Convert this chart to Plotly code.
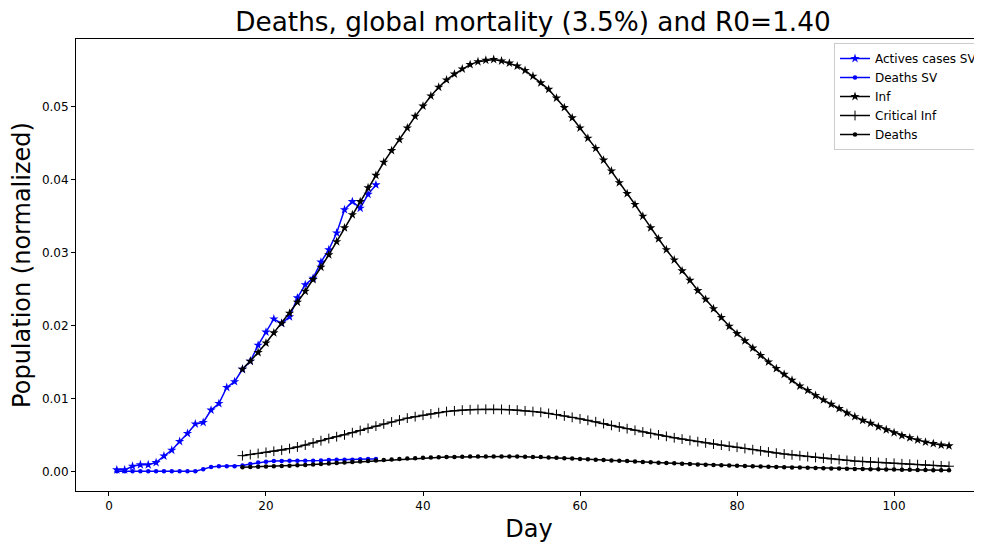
import plotly.graph_objects as go

# ---------------- data ----------------
days_sv = list(range(1, 35))
actives_sv = [0.0002, 0.0002, 0.0007, 0.0009, 0.0009, 0.0012, 0.0021, 0.0029, 0.0041, 0.0052,
              0.0065, 0.0067, 0.0084, 0.0093, 0.0115, 0.0123, 0.0140, 0.0151, 0.0173, 0.0191,
              0.0209, 0.0203, 0.0212, 0.0238, 0.0256, 0.0265, 0.0287, 0.0304, 0.0327, 0.0359,
              0.0370, 0.0361, 0.0380, 0.0393]
deaths_sv = [0.0, 0.0, 0.0, 0.0, 0.0, 0.0, 0.0, 0.0, 0.0, 0.0,
             0.0, 0.0003, 0.0006, 0.0007, 0.0007, 0.0007, 0.0008, 0.0010, 0.0012, 0.0013,
             0.0014, 0.0014, 0.00145, 0.00145, 0.00145, 0.00145, 0.0015, 0.00155, 0.0016, 0.0016,
             0.0016, 0.00165, 0.0017, 0.0017]

days_model = list(range(17, 108))
inf = [0.0140, 0.0151, 0.0163, 0.0176, 0.0190, 0.0203, 0.0217, 0.0232, 0.0247, 0.0263,
       0.0280, 0.0297, 0.0315, 0.0334, 0.0352, 0.0370, 0.0389, 0.0406, 0.0424, 0.0440,
       0.0455, 0.0471, 0.0487, 0.0501, 0.0515, 0.0527, 0.0537, 0.0545, 0.0552, 0.0558,
       0.0562, 0.0564, 0.0565, 0.0563, 0.0560, 0.0556, 0.0550, 0.0542, 0.0533, 0.0524,
       0.0512, 0.0499, 0.0485, 0.0471, 0.0457, 0.0443, 0.0427, 0.0412, 0.0396, 0.0381,
       0.0366, 0.0350, 0.0334, 0.0319, 0.0304, 0.0290, 0.0275, 0.0262, 0.0248, 0.0236,
       0.0223, 0.0211, 0.0199, 0.0189, 0.0179, 0.0169, 0.0159, 0.0150, 0.0141, 0.0133,
       0.0125, 0.0117, 0.0111, 0.0104, 0.0098, 0.0092, 0.0086, 0.0080, 0.0075, 0.0070,
       0.0066, 0.0061, 0.0057, 0.0053, 0.0049, 0.0046, 0.0043, 0.0040, 0.0038, 0.0036,
       0.0035]
critical_inf = [0.00215, 0.00230, 0.00245, 0.00260, 0.00275, 0.00290, 0.00312, 0.00335, 0.00360, 0.00390,
                0.00420, 0.00450, 0.00475, 0.00500, 0.00530, 0.00560, 0.00590, 0.00620, 0.00650, 0.00677,
                0.00704, 0.00730, 0.00750, 0.00770, 0.00788, 0.00805, 0.00820, 0.00830, 0.00840, 0.00845,
                0.00849, 0.00851, 0.00851, 0.00849, 0.00845, 0.00840, 0.00830, 0.00820, 0.00810, 0.00795,
                0.00780, 0.00760, 0.00740, 0.00720, 0.00700, 0.00680, 0.00655, 0.00630, 0.00608, 0.00585,
                0.00563, 0.00540, 0.00520, 0.00500, 0.00480, 0.00460, 0.00442, 0.00424, 0.00407, 0.00390,
                0.00374, 0.00359, 0.00344, 0.00330, 0.00313, 0.00297, 0.00281, 0.00265, 0.00250, 0.00238,
                0.00226, 0.00214, 0.00202, 0.00190, 0.00180, 0.00170, 0.00160, 0.00150, 0.00140, 0.00134,
                0.00128, 0.00122, 0.00116, 0.00110, 0.00104, 0.00098, 0.00092, 0.00086, 0.00080, 0.00075,
                0.00070]
deaths = [0.00055, 0.00058, 0.00062, 0.00065, 0.00069, 0.00073, 0.00078, 0.00083, 0.00088, 0.00094,
          0.00100, 0.00107, 0.00113, 0.00120, 0.00127, 0.00135, 0.00142, 0.00150, 0.00157, 0.00163,
          0.00169, 0.00175, 0.00180, 0.00185, 0.00189, 0.00192, 0.00195, 0.00198, 0.00200, 0.00202,
          0.00204, 0.00205, 0.00205, 0.00205, 0.00204, 0.00202, 0.00200, 0.00198, 0.00195, 0.00191,
          0.00186, 0.00181, 0.00176, 0.00170, 0.00165, 0.00160, 0.00155, 0.00150, 0.00145, 0.00140,
          0.00134, 0.00129, 0.00123, 0.00118, 0.00113, 0.00109, 0.00104, 0.00100, 0.00095, 0.00091,
          0.00087, 0.00083, 0.00079, 0.00075, 0.00072, 0.00069, 0.00066, 0.00063, 0.00060, 0.00057,
          0.00054, 0.00051, 0.00048, 0.00045, 0.00043, 0.00040, 0.00038, 0.00035, 0.00033, 0.00031,
          0.00029, 0.00027, 0.00025, 0.00024, 0.00022, 0.00020, 0.00019, 0.00017, 0.00016, 0.00014,
          0.00013]

x_ticks = [0, 20, 40, 60, 80, 100]
y_ticks = [0.00, 0.01, 0.02, 0.03, 0.04, 0.05]
y_tick_labels = ["0.00", "0.01", "0.02", "0.03", "0.04", "0.05"]

title_text = "Deaths, global mortality (3.5%) and R0=1.40"
x_label = "Day"
y_label = "Population (normalized)"

# ---------------- figure ----------------
BLUE = "#0000ff"
BLACK = "#000000"
FONT = "DejaVu Sans"

# the page body adds an 8px offset; the figure is sized so its right/bottom edges meet the window
W, H = 974, 535
ML, MT, MR = 68, 31, 0
MB = H - 483
PLOT_W = W - ML - MR
PLOT_H = H - MT - MB

fig = go.Figure()
fig.add_trace(go.Scatter(x=days_sv, y=actives_sv, name="Actives cases SV", mode="lines+markers",
                         line=dict(color=BLUE, width=1.5),
                         marker=dict(symbol="star", size=7, color=BLUE)))
fig.add_trace(go.Scatter(x=days_sv, y=deaths_sv, name="Deaths SV", mode="lines+markers",
                         line=dict(color=BLUE, width=1.5),
                         marker=dict(symbol="circle", size=4.5, color=BLUE)))
fig.add_trace(go.Scatter(x=days_model, y=inf, name="Inf", mode="lines+markers",
                         line=dict(color=BLACK, width=1.5),
                         marker=dict(symbol="star", size=7, color=BLACK)))
fig.add_trace(go.Scatter(x=days_model, y=critical_inf, name="Critical Inf", mode="lines+markers",
                         line=dict(color=BLACK, width=1.5),
                         marker=dict(symbol="cross-thin", size=7, color=BLACK,
                                     line=dict(color=BLACK, width=1))))
fig.add_trace(go.Scatter(x=days_model, y=deaths, name="Deaths", mode="lines+markers",
                         line=dict(color=BLACK, width=1.5),
                         marker=dict(symbol="circle", size=4.5, color=BLACK)))

fig.update_layout(
    width=W, height=H,
    margin=dict(l=ML, r=MR, t=MT, b=MB, autoexpand=False),
    paper_bgcolor="white", plot_bgcolor="white",
    font=dict(family=FONT, color="#000000", size=12),
    title=dict(text=title_text, x=525 / W, xanchor="center", xref="container",
               y=1 - 14 / H, yanchor="middle", yref="container",
               font=dict(family=FONT, size=26.3, color="#000000")),
    showlegend=True,
    legend=dict(x=(826 - ML) / PLOT_W, xanchor="left", y=1 - (35 - MT) / PLOT_H, yanchor="top",
                xref="paper", yref="paper",
                bgcolor="white", bordercolor="#cccccc", borderwidth=1,
                font=dict(family=FONT, size=12, color="#000000"),
                tracegroupgap=0),
)
fig.update_xaxes(range=[-4.2, 111.2], tickmode="array", tickvals=x_ticks, automargin=False,
                 showgrid=False, zeroline=False, showline=True, linecolor="black", linewidth=1,
                 mirror=True, ticks="outside", ticklen=4, tickcolor="black",
                 tickfont=dict(family=FONT, size=12, color="#000000"),
                 title=dict(text=x_label, font=dict(family=FONT, size=24, color="#000000"), standoff=8))
fig.update_yaxes(range=[-0.0027, 0.05931], tickmode="array", tickvals=y_ticks, ticktext=y_tick_labels,
                 automargin=False,
                 showgrid=False, zeroline=False, showline=True, linecolor="black", linewidth=1,
                 mirror=False, ticks="outside", ticklen=4, tickcolor="black",
                 tickfont=dict(family=FONT, size=12, color="#000000"),
                 title=dict(text=y_label, font=dict(family=FONT, size=24, color="#000000"), standoff=6))

fig.write_html("out.html")
